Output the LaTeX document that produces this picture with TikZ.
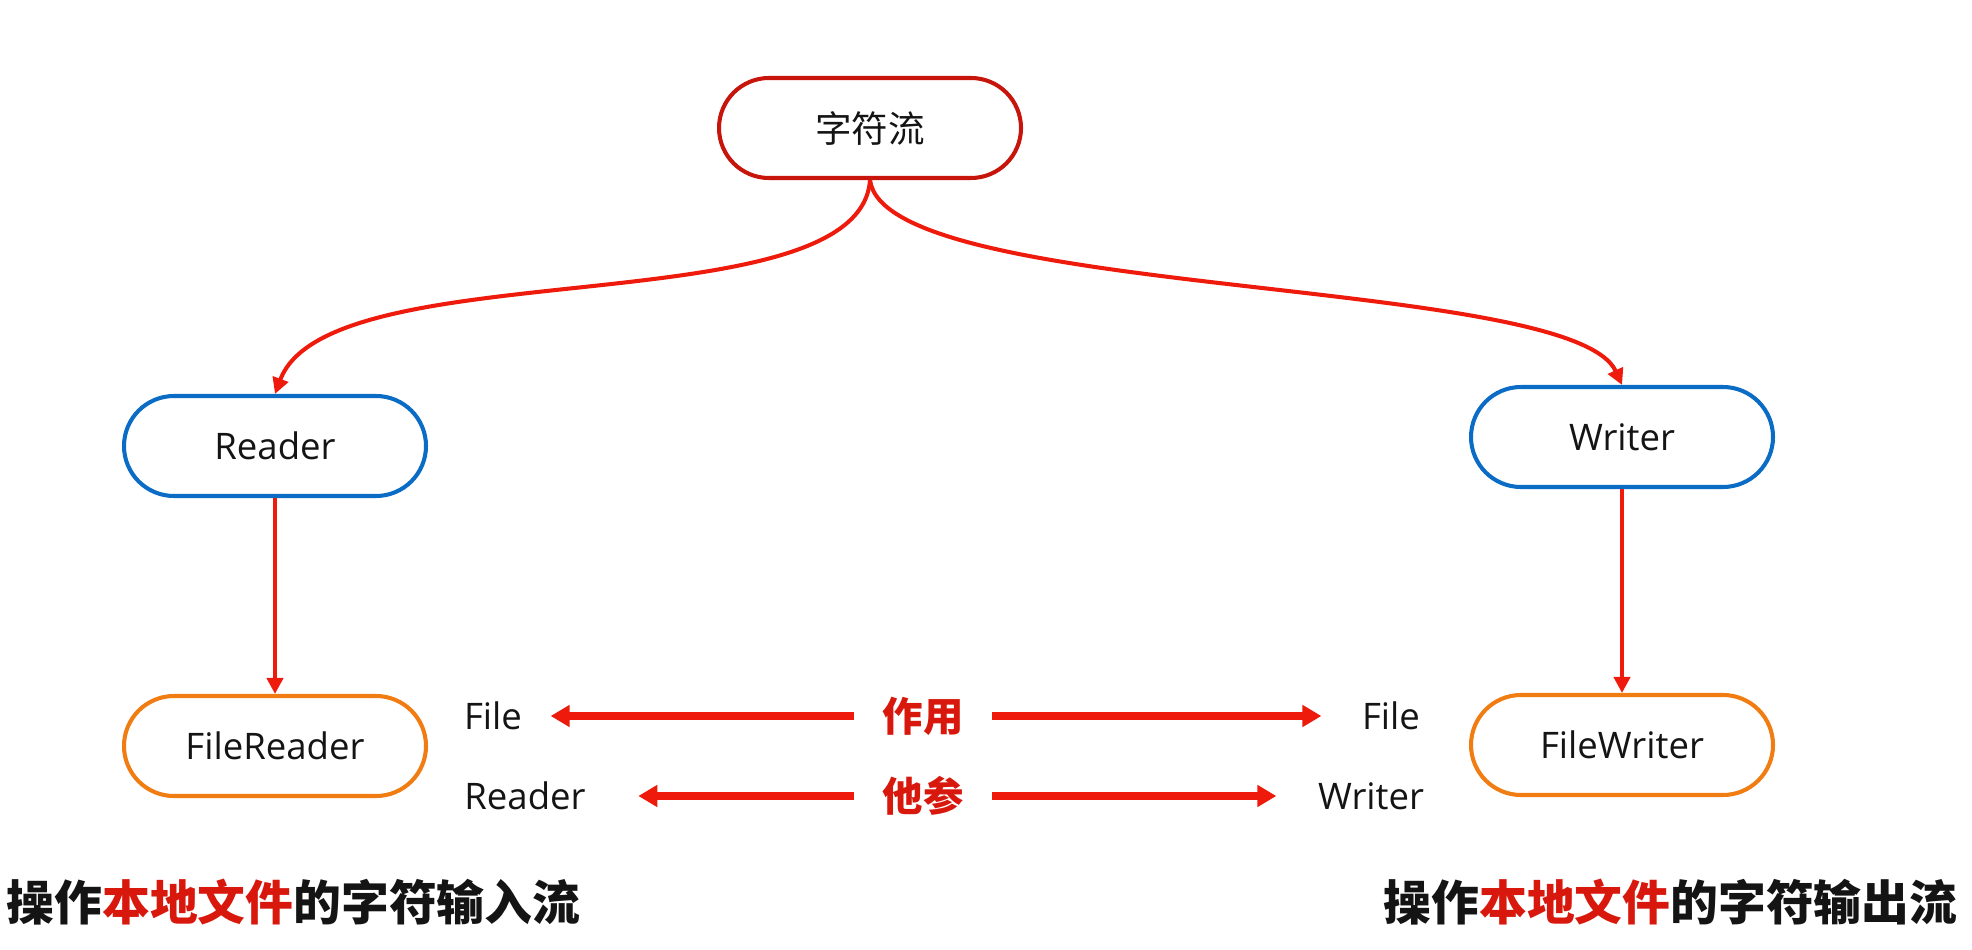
\documentclass[tikz,border=0pt]{standalone}
\usepackage{fontspec}
\usepackage{xcolor}
\usepackage{tikz}
\usetikzlibrary{arrows.meta}
\setmainfont{Open Sans}
\newfontfamily\cjk{Noto Sans CJK SC}
\newfontfamily\cjkheavy{Noto Sans CJK SC Black}
\definecolor{ink}{HTML}{141414}
\definecolor{rootred}{HTML}{C8150C}
\definecolor{linkred}{HTML}{EE1B0C}
\definecolor{tagred}{HTML}{D8180C}
\definecolor{nodeblue}{HTML}{0B6CC6}
\definecolor{nodeorange}{HTML}{F07C12}
\tikzset{
  box/.style={rectangle, rounded corners=0.5cm, minimum width=3.02cm, minimum height=1.0cm,
    line width=1.15pt, fill=white, text=ink, font=\fontsize{10.4}{12}\selectfont},
  rbox/.style={box, draw=rootred},
  bbox/.style={box, draw=nodeblue},
  obox/.style={box, draw=nodeorange},
  link/.style={draw=linkred, line width=1.15pt, -{Triangle[length=0.16cm, width=0.16cm]}},
  biglink/.style={draw=linkred, line width=2pt, -{Triangle[length=0.19cm, width=0.21cm]}},
  lbl/.style={text=ink, font=\fontsize{10.4}{12}\selectfont, inner sep=0pt},
  tag/.style={text=tagred, font=\cjkheavy\fontsize{11.5}{13}\selectfont, inner xsep=0.28cm, inner ysep=0pt},
  caption/.style={text=ink, font=\cjkheavy\fontsize{13.6}{16}\selectfont, inner sep=0pt}
}

\begin{document}
\begin{tikzpicture}
  \useasboundingbox[fill=white] (0,0) rectangle (19.72,9.49);

  % tree of streams
  \node[rbox] (root) at (8.70,8.21) {\cjk 字符流};
  \node[bbox] (reader) at (2.75,5.03) {Reader};
  \node[bbox] (writer) at (16.22,5.12) {Writer};
  \node[obox] (freader) at (2.75,2.03) {FileReader};
  \node[obox] (fwriter) at (16.22,2.04) {FileWriter};

  \draw[link] (root.south) .. controls +(-0.10,-1.48) and +(0.54,1.45) .. (reader.north);
  \draw[link] (root.south) .. controls +(0.15,-1.20) and +(-0.50,1.10) .. (writer.north);
  \draw[link] (reader) -- (freader);
  \draw[link] (writer) -- (fwriter);

  % name parts
  \node[lbl] (fileL) at (4.93,2.33) {File};
  \node[lbl] (fileR) at (13.91,2.33) {File};
  \node[lbl] (readerL) at (5.25,1.53) {Reader};
  \node[lbl] (writerR) at (13.71,1.53) {Writer};
  \node[tag] (act) at (9.23,2.33) {作用};
  \node[tag] (ref) at (9.23,1.53) {他参};

  \draw[biglink, shorten >=0.28cm] (act.west) -- (fileL.east);
  \draw[biglink, shorten >=0.40cm] (act.east) -- (fileR.west);
  \draw[biglink, shorten >=0.52cm] (ref.west) -- (readerL.east);
  \draw[biglink, shorten >=0.41cm] (ref.east) -- (writerR.west);

  \node[caption, anchor=west] (capin) at (0.06,0.47) {操作\textcolor{tagred}{本地文件}的字符输入流};
  \node[caption, anchor=east] (capout) at (19.58,0.47) {操作\textcolor{tagred}{本地文件}的字符输出流};
\end{tikzpicture}
\end{document}
